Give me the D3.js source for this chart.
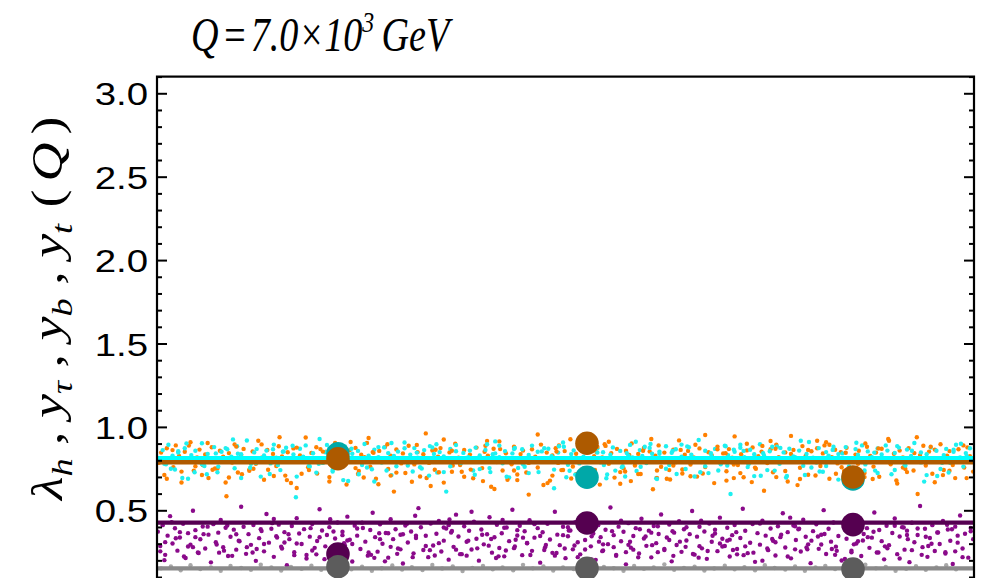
<!DOCTYPE html>
<html><head><meta charset="utf-8">
<script src="https://cdn.jsdelivr.net/npm/d3@7"></script>
<style>html,body{margin:0;padding:0;background:#fff;overflow:hidden}</style>
</head><body>
<svg id="chart" width="990" height="578"></svg>
<script>
// ---------------- data ----------------
const yMajorTicks = [0, 0.5, 1.0, 1.5, 2.0, 2.5, 3.0];
const yMajorLabels = ["", "0.5", "1.0", "1.5", "2.0", "2.5", "3.0"];
const yMinorTicks = [0.1,0.2,0.3,0.4,0.6,0.7,0.8,0.9,1.1,1.2,1.3,1.4,1.6,1.7,1.8,1.9,2.1,2.2,2.3,2.4,2.6,2.7,2.8,2.9,3.1];

// reference (horizontal) lines: value per series
const seriesNames = ["yt_cyan", "yt_orange", "lambda_purple", "gray"];
const lineValues = [0.812, 0.788, 0.426, 0.152];
const lineColors = ["#00ffff", "#b05a00", "#560052", "#8a8a8a"];

// big markers (three benchmark points, x on 0-1000 scale)
const markerX = [221.5, 526.3, 851.9];
const markerCyan = [0.839, 0.698, 0.688];
const markerOrange = [0.809, 0.902, 0.700];
const markerPurple = [0.238, 0.424, 0.414];
const markerGray = [0.162, 0.152, 0.148];

// scatter clouds [x (0-1000), value]
const cyanPts = [[3,.812],[7,.861],[11,.776],[14,.893],[19,.828],[22,.745],[26,.846],[31,.804],[34,.872],[38,.689],
[42,.831],[47,.857],[50,.791],[55,.902],[58,.766],[62,.838],[67,.813],[70,.879],[74,.728],[79,.851],
[83,.797],[86,.866],[91,.822],[95,.752],[98,.884],[103,.836],[107,.805],[110,.918],[115,.779],[119,.847],
[122,.867],[127,.702],[131,.829],[134,.858],[139,.781],[143,.894],[146,.816],[151,.741],[155,.853],[158,.875],
[163,.798],[167,.835],[170,.578],[175,.869],[179,.821],[182,.889],[187,.763],[191,.842],[194,.806],[199,.927],
[203,.784],[206,.848],[211,.871],[215,.733],[218,.817],[223,.862],[227,.795],[230,.883],[234,.676],[239,.839],
[243,.808],[246,.856],[251,.772],[254,.897],[259,.827],[263,.746],[266,.864],[271,.819],[275,.786],[278,.877],
[283,.843],[287,.711],[290,.826],[295,.852],[298,.799],[303,.906],[307,.768],[310,.834],[315,.873],[319,.815],
[322,.758],[327,.861],[331,.802],[334,.885],[339,.838],[343,.726],[346,.849],[351,.823],[354,.612],[359,.868],
[363,.811],[366,.891],[371,.777],[375,.844],[378,.807],[383,.858],[387,.739],[390,.876],[395,.829],[399,.795],
[402,.862],[407,.753],[411,.836],[414,.913],[419,.818],[423,.782],[426,.855],[431,.697],[435,.841],[438,.874],
[443,.803],[447,.866],[450,.761],[455,.832],[459,.888],[462,.814],[467,.729],[471,.853],[474,.797],[479,.869],
[483,.825],[486,.632],[491,.846],[495,.808],[498,.881],[503,.773],[507,.837],[510,.859],[515,.792],[519,.899],
[522,.821],[527,.744],[531,.864],[534,.812],[539,.872],[543,.787],[546,.848],[551,.715],[555,.833],[558,.877],
[563,.801],[567,.856],[570,.764],[575,.843],[579,.892],[582,.817],[587,.736],[591,.861],[594,.826],[599,.783],
[603,.874],[606,.839],[611,.692],[615,.852],[618,.809],[623,.884],[627,.771],[630,.845],[635,.866],[639,.798],
[642,.822],[647,.748],[651,.878],[654,.834],[659,.806],[663,.921],[666,.789],[671,.857],[675,.723],[678,.842],
[683,.868],[687,.813],[690,.776],[695,.887],[699,.831],[702,.598],[707,.851],[711,.802],[714,.875],[719,.818],
[723,.759],[726,.863],[731,.836],[735,.794],[738,.896],[743,.827],[747,.741],[750,.854],[755,.811],[759,.882],
[762,.779],[767,.847],[771,.706],[774,.869],[779,.823],[783,.804],[786,.858],[791,.767],[795,.838],[798,.909],
[803,.815],[807,.786],[810,.873],[815,.731],[819,.849],[822,.828],[827,.862],[831,.799],[834,.684],[839,.841],
[843,.879],[846,.808],[851,.754],[855,.867],[858,.832],[863,.889],[867,.775],[870,.853],[875,.819],[879,.738],
[882,.871],[887,.835],[891,.797],[894,.858],[899,.716],[903,.844],[906,.885],[911,.812],[915,.769],[918,.864],
[923,.826],[927,.903],[930,.791],[935,.847],[939,.672],[942,.836],[947,.876],[951,.805],[954,.857],[959,.748],
[963,.831],[966,.868],[971,.784],[975,.851],[978,.893],[983,.817],[987,.762],[990,.843],[995,.872],[998,.809]];

const cyanPts2 = [[517,.781],[84,.873],[903,.742],[342,.896],[671,.764],[129,.808],[788,.917],[455,.723],[26,.854],[612,.688],
[238,.869],[961,.785],[395,.747],[753,.881],[61,.716],[834,.837],[287,.903],[569,.758],[177,.791],[706,.864],
[428,.701],[991,.826],[148,.772],[642,.894],[313,.733],[867,.799],[492,.884],[215,.742],[731,.705],[9,.779],
[586,.911],[359,.764],[924,.857],[103,.694],[679,.823],[474,.872],[257,.757],[811,.733],[539,.846],[36,.901],
[698,.768],[381,.819],[942,.711],[166,.887],[623,.749],[297,.796],[856,.905],[505,.737],[72,.841],[770,.697],
[419,.888],[195,.726],[975,.863],[333,.708],[597,.881],[114,.755],[742,.842],[448,.776],[882,.724],[271,.879],
[658,.703],[17,.749],[531,.895],[819,.766],[366,.854],[138,.718],[714,.893],[486,.744],[949,.807],[228,.681],
[577,.828],[303,.872],[793,.712],[55,.776],[631,.856],[408,.729],[892,.889],[186,.766],[550,.692],[763,.874],
[324,.751],[93,.925],[687,.739],[466,.851],[916,.769],[247,.716],[604,.898],[372,.783],[843,.697],[154,.851],
[724,.776],[512,.714],[984,.899],[281,.739],[649,.883],[46,.728],[437,.867],[801,.757],[208,.892],[561,.738],
[351,.729],[878,.846],[121,.784],[665,.728],[497,.906],[781,.818],[266,.673],[935,.787],[592,.761],[404,.896],
[75,.762],[739,.707],[318,.846],[522,.869],[866,.739],[171,.702],[615,.839],[442,.754],[969,.727],[232,.853],
[696,.884],[31,.694],[547,.772],[828,.881],[389,.713],[142,.866],[756,.738],[479,.791],[908,.876],[293,.764],
[636,.718],[99,.839],[573,.703],[847,.763],[414,.841],[198,.779],[718,.856],[955,.706],[337,.877],[501,.698]];

const orangePts = [[2,.784],[5,.846],[9,.712],[12,.872],[16,.803],[20,.759],[23,.889],[27,.826],[30,.667],[34,.851],
[38,.793],[41,.908],[45,.738],[49,.817],[52,.864],[56,.772],[59,.835],[63,.694],[67,.878],[70,.809],
[74,.751],[77,.857],[81,.821],[85,.584],[88,.843],[92,.786],[95,.895],[99,.727],[103,.831],[106,.868],
[110,.802],[113,.744],[117,.853],[121,.779],[124,.917],[128,.815],[131,.683],[135,.862],[139,.797],[142,.838],
[146,.765],[149,.884],[153,.823],[157,.708],[160,.848],[164,.791],[167,.871],[171,.634],[175,.829],[178,.806],
[182,.936],[185,.758],[189,.844],[193,.813],[196,.721],[200,.867],[203,.787],[207,.852],[211,.699],[214,.826],
[218,.892],[221,.771],[225,.839],[229,.807],[232,.655],[236,.861],[239,.795],[243,.874],[247,.736],[250,.833],
[254,.818],[257,.904],[261,.762],[265,.845],[268,.689],[272,.856],[275,.801],[279,.879],[283,.748],[286,.828],
[290,.612],[293,.865],[297,.792],[301,.841],[304,.724],[308,.887],[311,.811],[315,.775],[319,.849],[322,.703],
[326,.836],[329,.961],[333,.784],[337,.858],[340,.743],[344,.822],[347,.873],[351,.666],[355,.805],[358,.847],
[362,.768],[365,.899],[369,.816],[373,.731],[376,.862],[380,.797],[383,.834],[387,.692],[391,.876],[394,.809],
[398,.753],[401,.851],[405,.828],[409,.641],[412,.869],[416,.789],[419,.913],[423,.739],[427,.842],[430,.813],
[434,.776],[437,.881],[441,.715],[445,.837],[448,.858],[452,.798],[455,.594],[459,.866],[463,.821],[466,.757],
[470,.894],[473,.807],[477,.846],[481,.678],[484,.829],[488,.872],[491,.784],[495,.741],[499,.855],[502,.812],
[506,.926],[509,.763],[513,.839],[517,.707],[520,.861],[524,.801],[527,.878],[531,.727],[535,.824],[538,.849],
[542,.654],[545,.817],[549,.886],[553,.779],[556,.843],[560,.696],[563,.868],[567,.805],[571,.752],[574,.857],
[578,.832],[581,.901],[585,.769],[589,.838],[592,.718],[596,.874],[599,.794],[603,.853],[607,.626],[610,.827],
[614,.889],[617,.761],[621,.846],[625,.811],[628,.685],[632,.864],[635,.788],[639,.919],[643,.745],[646,.833],
[650,.856],[653,.774],[657,.817],[661,.702],[664,.871],[668,.803],[671,.759],[675,.848],[679,.829],[682,.663],
[686,.882],[689,.796],[693,.841],[697,.734],[700,.867],[704,.815],[707,.943],[711,.771],[715,.836],[718,.698],
[722,.859],[725,.808],[729,.877],[733,.749],[736,.824],[740,.852],[743,.617],[747,.783],[751,.866],[754,.728],
[758,.894],[761,.819],[765,.791],[769,.847],[772,.673],[776,.838],[779,.862],[783,.806],[787,.755],[790,.885],
[794,.827],[797,.713],[801,.854],[805,.797],[808,.872],[812,.766],[815,.841],[819,.908],[823,.689],[826,.818],
[830,.863],[833,.781],[837,.849],[841,.736],[844,.875],[848,.812],[851,.645],[855,.834],[859,.857],[862,.793],
[866,.724],[869,.881],[873,.826],[877,.762],[880,.846],[884,.701],[887,.869],[891,.809],[895,.928],[898,.776],
[902,.839],[905,.679],[909,.858],[913,.817],[916,.748],[920,.873],[923,.801],[927,.843],[931,.598],[934,.831],
[938,.887],[941,.769],[945,.852],[949,.719],[952,.864],[956,.806],[959,.896],[963,.742],[967,.828],[970,.855],
[974,.786],[977,.693],[981,.866],[985,.813],[988,.757],[992,.877],[995,.824],[999,.732]];

const orangePts2 = [[643,.721],[218,.903],[876,.688],[47,.764],[489,.852],[312,.671],[751,.915],[136,.743],[938,.801],[567,.659],
[402,.887],[88,.697],[706,.774],[259,.933],[831,.719],[523,.752],[19,.861],[612,.694],[371,.772],[987,.889],
[164,.664],[452,.727],[797,.862],[286,.708],[671,.951],[113,.737],[913,.756],[548,.896],[335,.646],[769,.736],
[62,.903],[429,.683],[858,.779],[195,.878],[589,.717],[728,.669],[351,.924],[962,.711],[243,.753],[507,.691],
[817,.889],[143,.706],[686,.866],[413,.628],[30,.732],[896,.917],[299,.781],[627,.741],[466,.954],[758,.699],
[177,.719],[539,.881],[952,.668],[384,.744],[97,.882],[714,.723],[271,.656],[843,.845],[484,.708],[605,.927],
[12,.689],[361,.857],[784,.651],[227,.764],[659,.893],[926,.739],[441,.681],[128,.895],[573,.733],[806,.709],
[318,.892],[697,.678],[71,.751],[883,.871],[497,.742],[253,.697],[741,.886],[159,.681],[632,.769],[404,.916],
[970,.737],[528,.677],[203,.852],[866,.699],[345,.728],[776,.946],[55,.712],[595,.857],[437,.739],[906,.661],
[282,.896],[668,.721],[118,.749],[823,.893],[478,.663],[237,.909],[732,.756],[991,.693],[376,.701],[553,.911],
[84,.667],[696,.842],[420,.867],[859,.728],[150,.938],[612,.739],[330,.694],[947,.881],[513,.716],[264,.849],
[787,.688],[39,.888],[653,.704],[455,.784],[918,.729],[186,.741],[580,.675],[808,.917],[361,.731],[104,.716],
[722,.899],[473,.652],[974,.772],[293,.726],[641,.862],[211,.673],[867,.901],[536,.742],[399,.675],[757,.869],
[68,.743],[624,.689],[930,.938],[246,.718],[492,.889],[838,.758],[171,.876],[706,.693],[341,.863],[567,.729]];

const purplePts = [[1,.372],[4,.286],[7,.411],[10,.233],[13,.348],[16,.465],[19,.301],[22,.392],[25,.258],[28,.337],
[32,.419],[35,.214],[38,.363],[41,.294],[44,.497],[47,.381],[50,.247],[53,.326],[56,.403],[59,.271],
[63,.354],[66,.188],[69,.417],[72,.309],[75,.366],[78,.442],[81,.279],[84,.395],[87,.226],[90,.341],
[94,.384],[97,.264],[100,.318],[103,.521],[106,.401],[109,.239],[112,.357],[115,.293],[118,.412],[121,.197],
[125,.333],[128,.376],[131,.254],[134,.478],[137,.306],[140,.389],[143,.221],[146,.345],[149,.414],[152,.282],
[156,.369],[159,.171],[162,.327],[165,.406],[168,.249],[171,.453],[174,.361],[177,.298],[180,.387],[183,.232],
[187,.342],[190,.418],[193,.275],[196,.316],[199,.506],[202,.379],[205,.207],[208,.352],[211,.399],[214,.261],
[218,.331],[221,.427],[224,.244],[227,.371],[230,.289],[233,.462],[236,.323],[239,.193],[242,.408],[245,.348],
[249,.268],[252,.394],[255,.312],[258,.228],[261,.382],[264,.485],[267,.339],[270,.252],[273,.416],[276,.299],
[280,.364],[283,.216],[286,.447],[289,.327],[292,.386],[295,.271],[298,.353],[301,.181],[304,.409],[307,.307],
[311,.373],[314,.242],[317,.334],[320,.513],[323,.398],[326,.262],[329,.347],[332,.219],[335,.421],[338,.289],
[342,.359],[345,.436],[348,.253],[351,.318],[354,.391],[357,.204],[360,.367],[363,.281],[366,.474],[369,.343],
[373,.237],[376,.404],[379,.311],[382,.377],[385,.265],[388,.432],[391,.329],[394,.198],[397,.385],[400,.296],
[404,.356],[407,.458],[410,.246],[413,.338],[416,.413],[419,.274],[422,.362],[425,.224],[428,.397],[431,.315],
[435,.503],[438,.283],[441,.349],[444,.407],[447,.231],[450,.374],[453,.302],[456,.441],[459,.257],[462,.336],
[466,.393],[469,.186],[472,.368],[475,.278],[478,.419],[481,.325],[484,.245],[487,.491],[490,.354],[493,.291],
[497,.401],[500,.213],[503,.344],[506,.379],[509,.266],[512,.429],[515,.308],[518,.236],[521,.388],[524,.322],
[528,.468],[531,.284],[534,.361],[537,.203],[540,.411],[543,.339],[546,.259],[549,.383],[552,.297],[555,.517],
[559,.351],[562,.227],[565,.402],[568,.314],[571,.371],[574,.176],[577,.423],[580,.276],[583,.346],[586,.393],
[590,.241],[593,.449],[596,.331],[599,.287],[602,.378],[605,.218],[608,.406],[611,.303],[614,.358],[617,.475],
[621,.262],[624,.337],[627,.415],[630,.194],[633,.366],[636,.292],[639,.434],[642,.251],[645,.386],[648,.319],
[652,.357],[655,.496],[658,.234],[661,.342],[664,.401],[667,.272],[670,.373],[673,.209],[676,.421],[679,.311],
[683,.384],[686,.255],[689,.456],[692,.329],[695,.286],[698,.395],[701,.223],[704,.351],[707,.412],[710,.268],
[714,.334],[717,.509],[720,.377],[723,.243],[726,.305],[729,.418],[732,.191],[735,.363],[738,.294],[741,.438],
[745,.348],[748,.261],[751,.391],[754,.317],[757,.229],[760,.404],[763,.339],[766,.482],[769,.277],[772,.369],
[776,.212],[779,.409],[782,.322],[785,.386],[788,.253],[791,.444],[794,.341],[797,.296],[800,.183],[803,.375],
[807,.416],[810,.269],[813,.353],[816,.501],[819,.238],[822,.389],[825,.312],[828,.427],[831,.282],[834,.346],
[838,.199],[841,.398],[844,.329],[847,.463],[850,.258],[853,.371],[856,.301],[859,.415],[862,.226],[865,.358],
[869,.393],[872,.275],[875,.336],[878,.487],[881,.247],[884,.382],[887,.315],[890,.206],[893,.407],[896,.291],
[900,.364],[903,.451],[906,.237],[909,.343],[912,.399],[915,.264],[918,.378],[921,.189],[924,.425],[927,.308],
[931,.352],[934,.526],[937,.279],[940,.389],[943,.221],[946,.334],[949,.411],[952,.256],[955,.367],[958,.298],
[962,.436],[965,.241],[968,.385],[971,.317],[974,.178],[977,.402],[980,.348],[983,.469],[986,.271],[989,.359],
[993,.216],[996,.394],[999,.327]];

const purplePts2 = [[541,.312],[127,.386],[883,.247],[306,.419],[692,.283],[47,.339],[775,.456],[418,.224],[956,.367],[239,.298],
[613,.404],[82,.258],[497,.351],[842,.208],[361,.376],[705,.262],[18,.429],[577,.293],[266,.215],[931,.391],
[448,.336],[153,.271],[809,.343],[385,.491],[656,.238],[101,.314],[903,.407],[524,.265],[283,.362],[741,.198],
[38,.283],[462,.417],[864,.319],[195,.236],[631,.374],[329,.286],[977,.254],[568,.438],[227,.351],[795,.277],
[409,.328],[62,.402],[718,.231],[511,.289],[918,.352],[143,.448],[589,.218],[351,.397],[826,.268],[273,.327],
[683,.361],[4,.254],[437,.273],[861,.411],[171,.301],[598,.343],[316,.467],[757,.308],[489,.244],[944,.286],
[216,.373],[647,.281],[92,.227],[398,.353],[786,.389],[532,.206],[298,.266],[967,.413],[161,.356],[701,.324],
[474,.262],[830,.233],[251,.426],[613,.249],[28,.369],[371,.237],[919,.327],[557,.375],[206,.284],[738,.421],
[117,.247],[453,.304],[877,.371],[340,.229],[666,.437],[73,.295],[796,.266],[503,.399],[259,.247],[980,.306],
[627,.322],[183,.211],[423,.442],[853,.296],[317,.347],[545,.255],[10,.309],[709,.369],[392,.272],[936,.233],
[233,.319],[674,.256],[141,.423],[499,.271],[817,.358],[279,.194],[606,.291],[57,.357],[730,.246],[441,.381],
[894,.272],[199,.338],[579,.311],[358,.445],[772,.223],[110,.279],[521,.421],[965,.249],[294,.239],[648,.398],
[33,.223],[427,.259],[845,.384],[220,.262],[689,.301],[381,.318],[996,.374],[562,.233],[156,.307],[764,.353],
[469,.346],[909,.211],[245,.391],[632,.227],[86,.409],[406,.288],[801,.318],[532,.344],[313,.219],[720,.284],
[190,.259],[591,.386],[948,.299],[366,.264],[663,.216],[23,.332],[487,.228],[870,.339],[272,.362],[747,.271],
[131,.298],[559,.279],[415,.214],[832,.257],[212,.447],[680,.347],[51,.244],[504,.379],[924,.261],[345,.303],
[621,.268],[168,.231],[781,.404],[439,.323],[986,.219],[301,.356],[710,.236],[97,.356],[574,.249],[858,.314],
[229,.302],[664,.285],[379,.228],[941,.341],[122,.268],[515,.219],[813,.295],[286,.281],[605,.366],[44,.279],
[457,.232],[753,.328],[188,.393],[891,.284],[334,.261],[640,.312],[76,.246],[546,.296],[973,.386],[262,.233],
[698,.318],[425,.395],[850,.248],[147,.337],[583,.264],[357,.411],[781,.266],[9,.201],[476,.292],[914,.397]];

const grayPts = [[5,.152],[17,.163],[29,.141],[41,.171],[53,.148],[66,.158],[78,.137],[90,.166],[103,.154],[115,.144],
[127,.174],[140,.157],[152,.139],[164,.161],[177,.149],[189,.168],[201,.143],[214,.156],[226,.177],[238,.146],
[251,.162],[263,.138],[275,.153],[288,.169],[300,.145],[312,.159],[325,.142],[337,.172],[349,.151],[362,.164],
[374,.136],[386,.155],[399,.167],[411,.147],[423,.158],[436,.141],[448,.173],[460,.152],[473,.163],[485,.139],
[497,.157],[510,.148],[522,.169],[534,.144],[547,.161],[559,.153],[571,.137],[584,.166],[596,.149],[608,.158],
[621,.176],[633,.143],[645,.155],[658,.162],[670,.139],[682,.151],[695,.168],[707,.146],[719,.159],[732,.141],
[744,.171],[756,.154],[769,.145],[781,.163],[793,.138],[806,.157],[818,.167],[830,.148],[843,.156],[855,.142],
[867,.174],[880,.152],[892,.161],[904,.137],[917,.149],[929,.165],[941,.144],[954,.158],[966,.171],[978,.147]];

// ---------------- drawing ----------------
const svg = d3.select("#chart");
const x = d3.scaleLinear().domain([0, 1000]).range([157, 974]);
const y = d3.scaleLinear().domain([0, 3.1]).range([593.7, 76.6]);
const yBottom = -0.12;
const SX = 1.2;

svg.append("defs").append("clipPath").attr("id", "clip")
  .append("rect").attr("x", x(0)).attr("y", y(3.1)).attr("width", x(1000) - x(0)).attr("height", y(yBottom) - y(3.1));

const plot = svg.append("g").attr("clip-path", "url(#clip)");

function cloud(pts, color) {
  plot.append("g").selectAll("circle").data(pts).join("circle")
    .attr("cx", d => x(d[0])).attr("cy", d => y(d[1])).attr("r", 2.2).attr("fill", color);
}
cloud(grayPts, "#a8a8a8");
cloud(purplePts, "#8a0a8a");
cloud(purplePts2, "#8a0a8a");
cloud(orangePts, "#ff8000");
cloud(cyanPts, "#1ef0f0");
cloud(orangePts2, "#ff8000");
cloud(cyanPts2, "#1ef0f0");

// horizontal lines, drawn: gray, purple, cyan, orange
const lineGen = d3.line().x(d => x(d[0])).y(d => y(d[1]));
[3, 2, 0, 1].forEach(i => {
  plot.append("path").attr("d", lineGen([[0, lineValues[i]], [1000, lineValues[i]]]))
    .attr("stroke", lineColors[i]).attr("stroke-width", 4.4).attr("fill", "none");
});

// big markers
function markers(vals, color) {
  plot.append("g").selectAll("circle").data(vals).join("circle")
    .attr("cx", (d, i) => x(markerX[i])).attr("cy", d => y(d)).attr("r", 11.8).attr("fill", color);
}
markers(markerCyan, "#00a8a8");
markers(markerOrange, "#ad5a00");
markers(markerPurple, "#550050");
markers(markerGray, "#5c5c5c");

// frame
svg.append("rect").attr("x", x(0)).attr("y", y(3.1)).attr("width", x(1000) - x(0)).attr("height", y(yBottom) - y(3.1))
  .attr("fill", "none").attr("stroke", "#000").attr("stroke-width", 2.2);

// axes (ticks inward)
const fmt = d => yMajorLabels[yMajorTicks.indexOf(d)];
const gL = svg.append("g").attr("transform", `translate(${x(0)},0)`)
  .call(d3.axisLeft(y).tickValues(yMajorTicks).tickSize(-10).tickPadding(9).tickFormat(fmt));
svg.append("g").attr("transform", `translate(${x(0)},0)`)
  .call(d3.axisLeft(y).tickValues(yMinorTicks).tickSize(-5).tickFormat(""));
svg.append("g").attr("transform", `translate(${x(1000)},0)`)
  .call(d3.axisRight(y).tickValues(yMajorTicks).tickSize(-10).tickFormat(""));
svg.append("g").attr("transform", `translate(${x(1000)},0)`)
  .call(d3.axisRight(y).tickValues(yMinorTicks).tickSize(-5).tickFormat(""));
svg.selectAll(".domain").remove();
svg.selectAll(".tick line").attr("stroke", "#000").attr("stroke-width", 2);
gL.selectAll(".tick text")
  .attr("font-family", "Liberation Sans, Arial, sans-serif").attr("font-size", 32).attr("fill", "#000")
  .attr("x", -9 / SX).attr("dy", "0.36em")
  .attr("transform", `scale(${SX},1)`);

// title
const title = svg.append("text").attr("font-family", "Liberation Serif, serif").attr("font-style", "italic")
  .attr("font-size", 48).attr("fill", "#000");
title.append("tspan").text("Q");
title.append("tspan").attr("dx", 4).text("=");
title.append("tspan").attr("dx", 4).text("7.0×10");
title.append("tspan").attr("font-size", 30).attr("dy", -19).text("3");
title.append("tspan").attr("dx", 9).attr("dy", 19).text("GeV");
{
  const bb = title.node().getBBox();
  const s = 262 / bb.width;
  title.attr("transform", `translate(191,51) scale(${s},1)`);
}

// y-axis label (rotated)
const lab = svg.append("text").attr("font-family", "Liberation Serif, serif").attr("font-size", 40).attr("fill", "#000");
const parts = [
  ["λ", "i", 0], ["h", "s", 0], [",", "n", 10], ["y", "i", 10], ["τ", "s", 0], [",", "n", 10],
  ["y", "i", 10], ["b", "s", 0], [",", "n", 10], ["y", "i", 10], ["t", "s", 0],
  ["(", "n", 12], ["Q", "i", 6], [")", "n", 6]
];
let inSub = false;
parts.forEach(([t, kind, gap]) => {
  const ts = lab.append("tspan").text(t).attr("dx", gap);
  if (kind === "s") { ts.attr("font-size", 27).attr("font-style", "italic").attr("dy", 9); inSub = true; }
  else {
    if (inSub) { ts.attr("dy", -9); inSub = false; }
    ts.attr("font-style", kind === "i" ? "italic" : "normal");
  }
});
{
  const bb = lab.node().getBBox();
  const s = 385 / bb.width;
  lab.attr("transform", `translate(62,500) rotate(-90) scale(${s},1.1)`);
}
</script>
</body></html>
